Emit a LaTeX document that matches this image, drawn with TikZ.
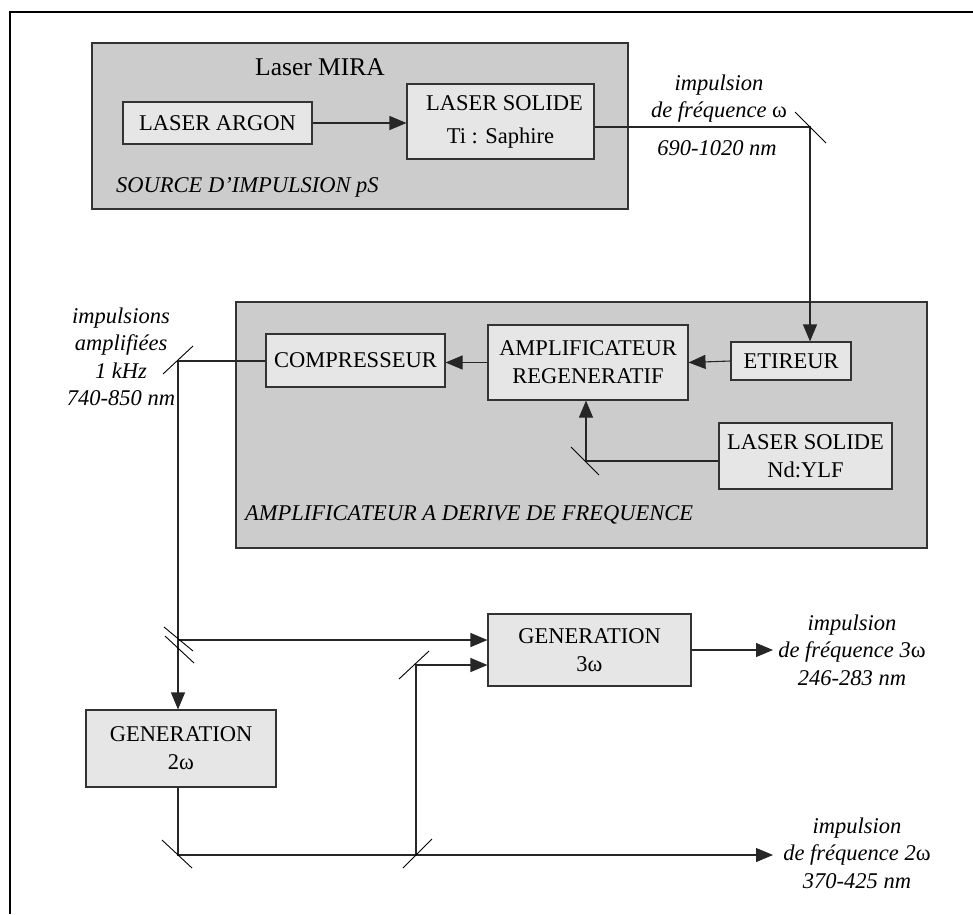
\documentclass[tikz,border=0pt]{standalone}
\usepackage{fontspec}
\setmainfont{Liberation Serif}
\usetikzlibrary{arrows.meta}
\definecolor{framegray}{HTML}{CCCCCC}
\definecolor{boxgray}{HTML}{E6E6E6}
\definecolor{edgegray}{HTML}{333333}
\begin{document}
\begin{tikzpicture}[x=1pt,y=-1pt,
  frame/.style={draw=edgegray, fill=framegray, line width=1.3pt, inner sep=0pt},
  unit/.style={draw=edgegray, fill=boxgray, line width=1.1pt, inner sep=0pt,
    align=center, font=\fontsize{22.5}{28}\selectfont},
  plain/.style={inner sep=0pt, font=\fontsize{22.5}{27}\selectfont},
  note/.style={inner sep=0pt, align=center, font=\fontsize{22.5}{27.5}\selectfont\itshape},
  beam/.style={line width=1.1pt, draw=black!85},
  feed/.style={beam, -{Triangle[length=17pt,width=14pt]}},
  mirror/.style={line width=0.9pt},
]
\useasboundingbox (0,0) rectangle (973,914);

% page border
\draw[line width=1.8pt] (10,914) -- (10,12) -- (973,12);

% grouping frames
\node[frame, minimum width=536pt, minimum height=166pt] (src) at (360,126) {};
\node[frame, minimum width=691pt, minimum height=246pt] (cpa) at (581.5,425) {};

\node[plain, font=\fontsize{25.5}{28}\selectfont] (mira) at (320,67) {Laser MIRA};
\node[plain, font=\fontsize{22.5}{27}\selectfont\itshape, anchor=west] (srclbl) at (116,187) {SOURCE D{\char"27}IMPULSION pS};
\node[plain, font=\fontsize{22.5}{27}\selectfont\itshape, anchor=west] (cpalbl) at (245,515) {AMPLIFICATEUR A DERIVE DE FREQUENCE};

% units
\node[unit, minimum width=189pt, minimum height=42pt] (argon) at (217.5,123) {LASER ARGON};
\node[unit, minimum width=187pt, minimum height=75pt, font=\fontsize{22.5}{33}\selectfont] (tisa) at (500.5,121.5) {\hspace*{8pt}LASER SOLIDE\\Ti : Saphire};
\node[unit, minimum width=179pt, minimum height=53pt] (compr) at (355.5,360.5) {COMPRESSEUR};
\node[unit, minimum width=200pt, minimum height=75pt] (regen) at (588,362.5) {AMPLIFICATEUR\\REGENERATIF};
\node[unit, minimum width=120pt, minimum height=38pt] (etir) at (791,361) {ETIREUR};
\node[unit, minimum width=173pt, minimum height=66pt] (ndylf) at (805.5,456) {LASER SOLIDE\\Nd:YLF};
\node[unit, minimum width=203pt, minimum height=72pt] (gen3) at (589.5,650) {GENERATION\\3{\upshape ω}};
\node[unit, minimum width=190pt, minimum height=77pt] (gen2) at (181,748.5) {GENERATION\\2{\upshape ω}};

% beam labels
\node[note] (lblw) at (719,98.5) {impulsion\\de fréquence {\upshape ω}};
\node[note] (lblwnm) at (717,148) {690-1020 nm};
\node[note] (lblamp) at (121,357) {impulsions\\amplifiées\\1 kHz\\740-850 nm};
\node[note] (lbl3w) at (852,650) {impulsion\\de fréquence 3{\upshape ω}\\246-283 nm};
\node[note] (lbl2w) at (857,853) {impulsion\\de fréquence 2{\upshape ω}\\370-425 nm};

% mirror positions and beam ends
\coordinate (m1) at (810,127);
\coordinate (m2) at (178,361);
\coordinate (m3) at (178,640);
\coordinate (m4) at (586,461);
\coordinate (m5) at (178,855);
\coordinate (m6) at (416,855);
\coordinate (m7) at (416,665);
\coordinate (out3) at (773,650);
\coordinate (out2) at (773,855);

% beams
\draw[feed] (argon.east) -- (argon.east -| tisa.west);
\draw[feed] (m1 -| tisa.east) -- (m1) -- (m1 |- etir.north);
\draw[feed] (etir.west) -- (regen.east);
\draw[feed] (regen.west) -- (regen.west -| compr.east);
\draw[feed] (m4 -| ndylf.west) -- (m4) -- (m4 |- regen.south);
\draw[feed] (m2 -| compr.west) -- (m2) -- (m2 |- gen2.north);
\draw[feed] (m3) -- (m3 -| gen3.west);
\draw[feed] (gen3.east) -- (out3);
\draw[beam] (m5 |- gen2.south) -- (m5) -- (m6);
\draw[feed] (m6) -- (out2);
\draw[feed] (m6) -- (m7) -- (m7 -| gen3.west);

% mirrors
\draw[mirror] ([shift={(-15,-15)}]m1) -- ([shift={(16,16)}]m1);
\draw[mirror] ([shift={(-15,13)}]m2) -- ([shift={(15,-15)}]m2);
\draw[mirror] ([shift={(-14,-13)}]m3) -- ([shift={(15,11)}]m3);
\draw[mirror] ([shift={(-13,-4)}]m3) -- ([shift={(16,23)}]m3);
\draw[mirror] ([shift={(-15,-14)}]m4) -- ([shift={(13,14)}]m4);
\draw[mirror] ([shift={(-16,-15)}]m5) -- ([shift={(14,13)}]m5);
\draw[mirror] ([shift={(-13,13)}]m6) -- ([shift={(16,-16)}]m6);
\draw[mirror] ([shift={(-17,14)}]m7) -- ([shift={(13,-14)}]m7);
\end{tikzpicture}
\end{document}
